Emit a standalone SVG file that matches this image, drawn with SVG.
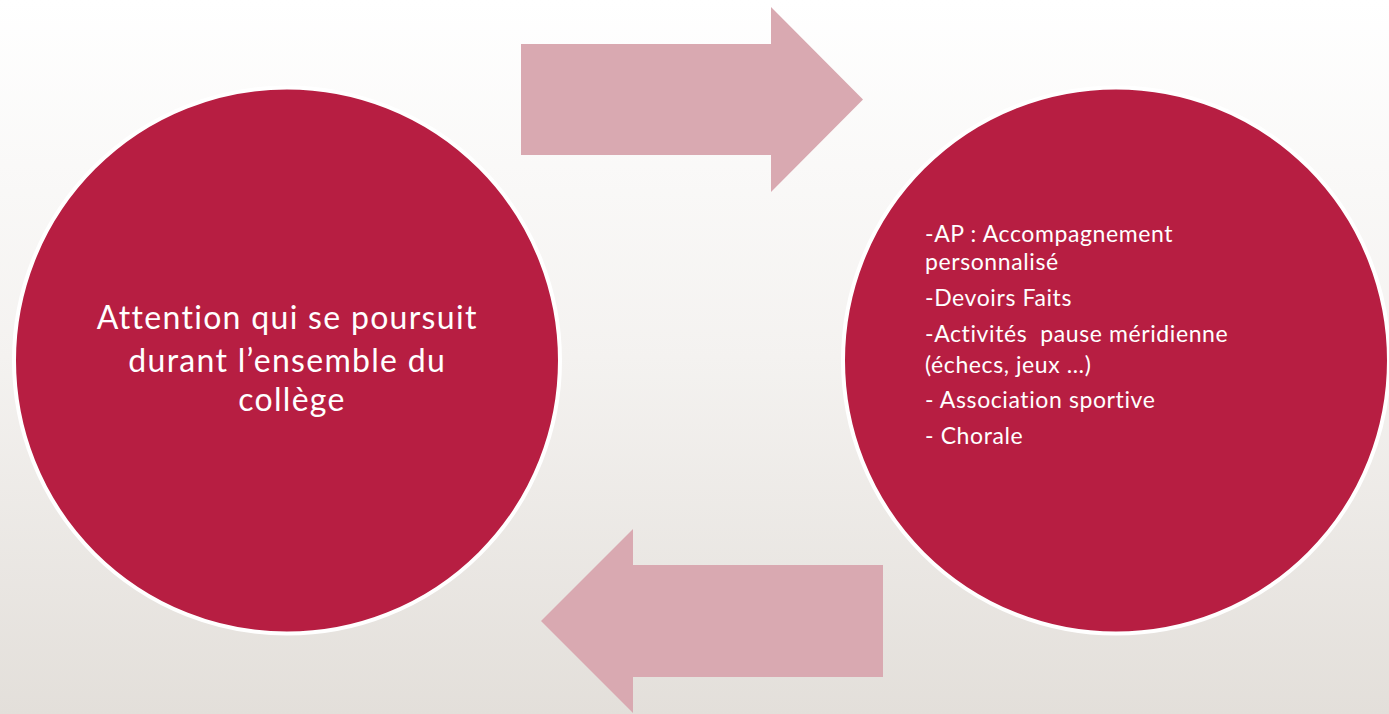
<svg xmlns="http://www.w3.org/2000/svg" width="1389" height="714" viewBox="0 0 1389 714">
<defs>
<linearGradient id="bg" x1="0" y1="0" x2="0" y2="1">
<stop offset="0" stop-color="#FFFFFF"/>
<stop offset="0.5" stop-color="#F4F2F0"/>
<stop offset="1" stop-color="#E3DFDA"/>
</linearGradient>
</defs>
<style>
.circ{fill:#B71E42;stroke:#FFFFFF;stroke-width:4}
.arrow{fill:#D9A9B1}
.t{font-family:Lato,"Open Sans","Liberation Sans",sans-serif;fill:#FFFFFF}
.big{font-size:32px;letter-spacing:1.3px}
.small{font-size:23px;letter-spacing:0.6px}
</style>
<rect x="0" y="0" width="1389" height="714" fill="url(#bg)"/>
<g id="connectors">
<polygon class="arrow" points="521,44 771,44 771,7 863,99.5 771,192 771,155 521,155"/>
<polygon class="arrow" points="883,565 633,565 633,529 541,621 633,713 633,677 883,677"/>
</g>
<g id="node-left">
<circle class="circ" cx="287" cy="360.5" r="273"/>
<text class="t big" text-anchor="middle">
<tspan x="292" y="329">Attention qui se poursuit</tspan>
<tspan x="292" y="372">durant l’ensemble du</tspan>
<tspan x="292" y="411">collège</tspan>
</text>
</g>
<g id="node-right">
<circle class="circ" cx="1116" cy="360.5" r="273"/>
<text class="t small" xml:space="preserve"><tspan x="925" y="242">-AP : Accompagnement</tspan><tspan x="925" y="270">personnalisé</tspan><tspan x="925" y="306">-Devoirs Faits</tspan><tspan x="925" y="342">-Activités  pause méridienne</tspan><tspan x="925" y="373">(échecs, jeux …)</tspan><tspan x="925" y="408">- Association sportive</tspan><tspan x="925" y="444">- Chorale</tspan></text>
</g>
</svg>
